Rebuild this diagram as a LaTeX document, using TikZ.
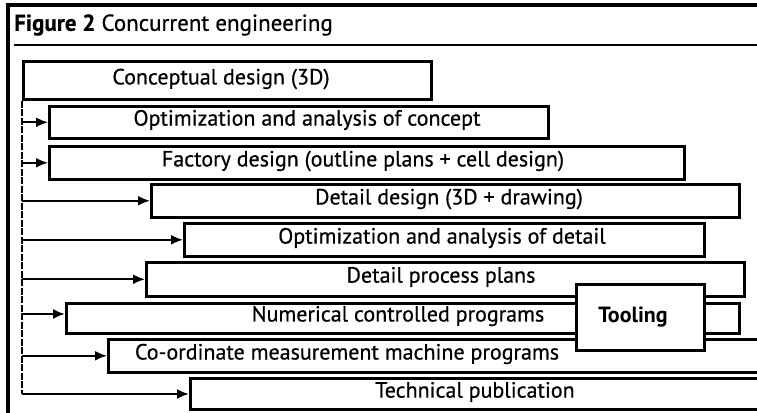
\documentclass[tikz,border=0pt]{standalone}
\usepackage{fontspec}
\setmainfont{PT Sans}
\newfontfamily\lblfont[FakeBold=0.6]{PT Sans}
\usetikzlibrary{arrows.meta}
\tikzset{
  box/.style={draw, line width=2.6pt, rectangle, anchor=north west, inner sep=0pt, fill=white},
  lbl/.style={font=\lblfont\fontsize{22}{26}\selectfont, inner sep=0pt},
  arr/.style={line width=2pt, -{Latex[length=12pt,width=10pt]}},
  spine/.style={line width=1.8pt, dash pattern=on 7pt off 1.5pt}
}
\begin{document}
\begin{tikzpicture}[x=1pt,y=-1pt]
\useasboundingbox (0,0) rectangle (757,412);
\clip (0,0) rectangle (757,412);
% frame
\draw[line width=4pt] (8,414) -- (8,5) -- (760,5);
\draw[line width=2.2pt] (14,45) -- (760,45);
\node[anchor=west, font=\lblfont\fontsize{23}{27}\selectfont, inner sep=0pt] (title) at (14,25) {{\bfseries Figure 2} Concurrent engineering};
% boxes
\node[box, minimum width=408pt, minimum height=38pt] (b1) at (22,60) {};
\node[box, minimum width=499pt, minimum height=32pt] (b2) at (48,105) {};
\node[box, minimum width=635pt, minimum height=33pt] (b3) at (48,145) {};
\node[box, minimum width=588pt, minimum height=33pt] (b4) at (150,183) {};
\node[box, minimum width=520pt, minimum height=33pt] (b5) at (183,222) {};
\node[box, minimum width=598pt, minimum height=34pt] (b6) at (145,261) {};
\node[box, minimum width=673pt, minimum height=30pt] (b7) at (65,302) {};
\node[box, minimum width=680pt, minimum height=33pt] (b8) at (107,338) {};
\node[box, minimum width=600pt, minimum height=31pt] (b9) at (189,377) {};
% labels
\node[lbl] (t1) at (221,79) {Conceptual design (3D)};
\node[lbl] (t2) at (307,120) {Optimization and analysis of concept};
\node[lbl] (t3) at (363,161) {Factory design (outline plans + cell design)};
\node[lbl] (t4) at (449,199) {Detail design (3D + drawing)};
\node[lbl] (t5) at (442,238) {Optimization and analysis of detail};
\node[lbl] (t6) at (441,277) {Detail process plans};
\node[lbl] (t7) at (398,316) {Numerical controlled programs};
\node[lbl] (t8) at (347,354) {Co-ordinate measurement machine programs};
\node[lbl] (t9) at (475,392) {Technical publication};
% tooling
\node[box, minimum width=128pt, minimum height=66pt] (tool) at (575,283) {};
\node[lbl, font=\fontsize{22}{26}\selectfont\bfseries] (tt) at (633,317) {Tooling};
% spine and arrows
\coordinate (top) at (b1.south west);
\coordinate (bot) at (top |- 0,394);
\draw[spine] (top) -- (bot);
\draw[arr] (top |- b2.west) -- (b2.west);
\draw[arr] (top |- b3.west) -- (b3.west);
\draw[arr] (top |- b4.west) -- (b4.west);
\draw[arr] (top |- b5.west) -- (b5.west);
\draw[arr] (top |- b6.west) -- (b6.west);
\draw[arr] (top |- 0,314) -- (b7.west |- 0,314);
\draw[arr] (top |- b8.west) -- (b8.west);
\draw[arr] (bot) -- (b9.west |- bot);
\end{tikzpicture}
\end{document}
